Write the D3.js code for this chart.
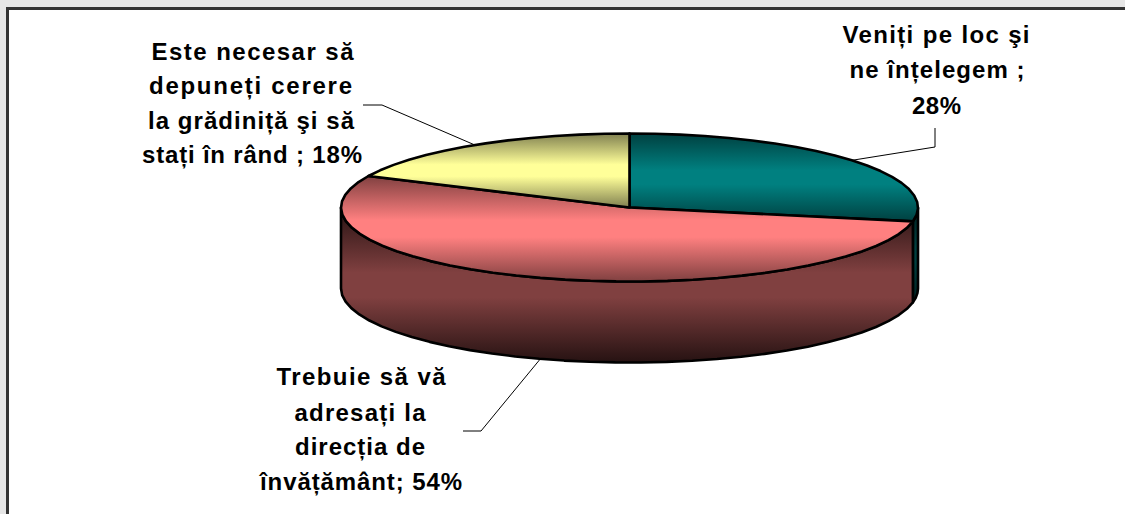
<!DOCTYPE html>
<html><head><meta charset="utf-8">
<script src="https://cdn.jsdelivr.net/npm/d3@7"></script>
<style>html,body{margin:0;padding:0;background:#fff}svg{display:block}</style>
</head><body><svg id="c" width="1125" height="514"></svg>
<script>
const categories = ["Veniți pe loc şi ne înțelegem", "Trebuie să vă adresați la direcția de învățământ", "Este necesar să depuneți cerere la grădiniță şi să stați în rând"];
const values = [28, 54, 18];
const labelLines = [
  ["Veniți pe loc şi", "ne înțelegem ;", "28%"],
  ["Trebuie să vă", "adresați la", "direcția de", "învățământ; 54%"],
  ["Este necesar să", "depuneți cerere", "la grădiniță şi să", "stați în rând ; 18%"]
];
const topColors = [["#004040", "#008080"], ["#804040", "#ff8080"], ["#808050", "#ffff99"]];
const sideColors = [["#001f1f", "#004040"], ["#261212", "#804040"], ["#404028", "#808050"]];
const labelBaselines = [[43, 78, 114], [385, 421, 455, 490], [60, 94, 129, 163]];
const labelCenters = [[936, 937, 936.5], [361, 360, 360, 361], [252.5, 250.5, 251, 252]];
const labelWidths = [[187, 175, 49], [169, 131, 130, 202], [202, 203, 206, 220]];
const leaderElbows = [[[935, 128], [935, 147]], [[463, 431], [481, 431]], [[363, 105], [382, 105]]];

const svg = d3.select("#c"), defs = svg.append("defs");
svg.append("rect").attr("width", 1125).attr("height", 514).attr("fill", "#e6e6e6");
svg.append("rect").attr("x", 7.5).attr("y", 8.5).attr("width", 1300).attr("height", 700).attr("fill", "#fff").attr("stroke", "#333").attr("stroke-width", 3);

const cx = 629.5, cy = 207.5, rx = 288.5, ry = 74, depth = 81;
const X = d3.scaleLinear().domain([-1, 1]).range([cx - rx, cx + rx]);
const Y = d3.scaleLinear().domain([-1, 1]).range([cy - ry, cy + ry]);
const P = (t, dz = 0) => [X(Math.sin(t)), Y(-Math.cos(t)) + dz];
const arcs = d3.pie().sort(null).value(d => d)(values);
const line = d3.line();
const samples = (a, b, dz) => {
  const n = Math.max(2, Math.ceil((b - a) / 0.09));
  return d3.range(n + 1).map(i => P(a + (b - a) * i / n, dz));
};
const grad = (id, [edge, mid]) => {
  const g = defs.append("linearGradient").attr("id", id).attr("x1", 0).attr("y1", 0).attr("x2", 0).attr("y2", 1);
  [[0, edge], [0.42, mid], [0.58, mid], [1, edge]].forEach(([o, c]) => g.append("stop").attr("offset", o).attr("stop-color", c));
};
values.forEach((_, i) => { grad("top" + i, topColors[i]); grad("side" + i, sideColors[i]); });

const stroke = s => s.attr("stroke", "#000").attr("stroke-width", 2.6).attr("stroke-linejoin", "round");
arcs.forEach((a, i) => {
  const s = Math.max(a.startAngle, Math.PI / 2), e = Math.min(a.endAngle, 3 * Math.PI / 2);
  if (e <= s) return;
  const pts = samples(s, e, 0).concat(samples(s, e, depth).reverse());
  svg.append("path").attr("d", line(pts) + "Z").attr("fill", `url(#side${i})`).call(stroke);
});
arcs.forEach((a, i) => {
  const pts = [[X(0), Y(0)]].concat(samples(a.startAngle, a.endAngle, 0));
  svg.append("path").attr("d", line(pts) + "Z").attr("fill", `url(#top${i})`).call(stroke);
});
arcs.forEach((a, i) => {
  const mid = (a.startAngle + a.endAngle) / 2;
  const front = mid > Math.PI / 2 && mid < 3 * Math.PI / 2;
  svg.append("path").attr("d", line([...leaderElbows[i], P(mid, front ? depth : 0)]))
    .attr("fill", "none").attr("stroke", "#000").attr("stroke-width", 1);
});
labelLines.forEach((lines, i) => {
  lines.forEach((l, j) => svg.append("text").attr("text-anchor", "middle")
    .attr("font-family", "'Liberation Sans', Arial, sans-serif").attr("font-weight", "bold")
    .attr("font-size", 24).attr("fill", "#000")
    .attr("x", labelCenters[i][j]).attr("y", labelBaselines[i][j])
    .attr("textLength", labelWidths[i][j]).attr("lengthAdjust", "spacing").text(l));
});
</script></body></html>
